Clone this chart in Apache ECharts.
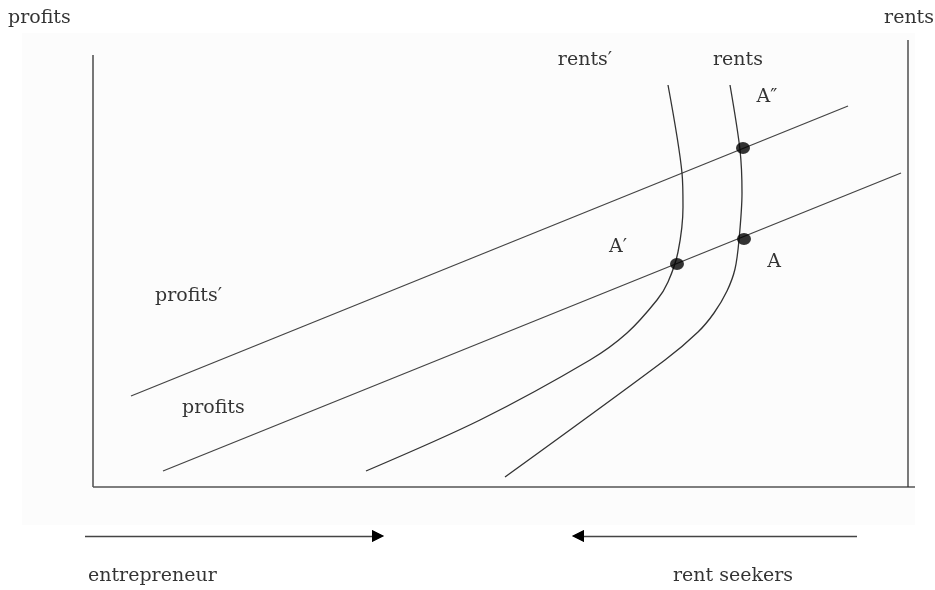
<!DOCTYPE html>
<html>
<head>
<meta charset="utf-8">
<script src="https://cdn.jsdelivr.net/npm/echarts@6/dist/echarts.min.js"></script>
<style>html,body{margin:0;padding:0;background:#fff}#c{width:935px;height:590px}</style>
</head>
<body>
<div id="c"></div>
<script>
// Data coordinates: origin at the corner of the two axes
var leftAxis = [[0, 0], [0, 432]];
var bottomAxis = [[0, 0], [822, 0]];
var rightAxis = [[815, 0], [815, 447]];
var profitsPrime = [[38, 91], [755, 381]];
var profits = [[70, 16], [808, 314]];
var rentsPrime = [[575,402],[589,314],[590,280],[585,235],[575,205],[564,187],[534,154],[497,127],[387,67],[273,16]];
var rents = [[637,402],[647,337],[649,294],[646,247],[642,218],[634,196],[621,174],[605,155],[572,127],[412,10]];
var equilibria = [["A″", 650, 339], ["A", 651, 248], ["A′", 584, 223]];
var arrowsData = [[[-8, -49], [285, -49]], [[764, -49], [485, -49]]];
var labelsCenter = [["rents′", 492, 427], ["rents", 645, 427], ["A″", 674, 390], ["A′", 525, 240], ["A", 681, 225]];
var labelsLeft = [["profits", -85, 469], ["profits′", 62, 191], ["profits", 89, 79], ["entrepreneur", -5, -89], ["rent seekers", 580, -89]];
var labelsRight = [["rents", 841, 469]];

var font = { fontFamily: 'DejaVu Serif', fontSize: 19, color: '#000' };
function lineSeries(d, color, w, smooth) {
  return { type: 'line', data: d, symbol: 'none', smooth: smooth || false, silent: true,
    lineStyle: { color: color, width: w }, z: 3 };
}
function labelSeries(arr, pos) {
  return { type: 'scatter', symbolSize: 0, silent: true, z: 5,
    data: arr.map(function (a) { return { name: a[0], value: [a[1], a[2]] }; }),
    label: Object.assign({ show: true, position: pos, distance: 0, formatter: '{b}' }, font) };
}
var chart = echarts.init(document.getElementById('c'), null, { renderer: 'canvas' });
chart.setOption({
  animation: false,
  backgroundColor: '#fff',
  grid: { left: 0, right: 0, top: 0, bottom: 0 },
  xAxis: { type: 'value', min: -93, max: 842, show: false },
  yAxis: { type: 'value', min: -103, max: 487, show: false },
  series: [
    Object.assign(lineSeries(leftAxis, '#555', 1.6), {
      markArea: { silent: true, itemStyle: { color: '#fcfcfc' },
        data: [[{ coord: [-71, -38] }, { coord: [822, 454] }]] }
    }),
    lineSeries(bottomAxis, '#555', 1.6),
    lineSeries(rightAxis, '#333', 1.3),
    lineSeries(profitsPrime, '#444', 1.3),
    lineSeries(profits, '#444', 1.3),
    lineSeries(rentsPrime, '#333', 1.3, 0.3),
    lineSeries(rents, '#333', 1.3, 0.3),
    { type: 'lines', coordinateSystem: 'cartesian2d', silent: true, z: 4,
      symbol: ['none', 'triangle'], symbolSize: [10, 12],
      lineStyle: { color: '#444', width: 1.3, opacity: 1 },
      data: arrowsData.map(function (c) { return { coords: c }; }) },
    { type: 'lines', coordinateSystem: 'cartesian2d', silent: true, z: 4,
      symbol: ['none', 'triangle'], symbolSize: [10, 12],
      lineStyle: { color: '#000', width: 0, opacity: 1 },
      data: arrowsData.map(function (c) { return { coords: c }; }) },
    { type: 'scatter', silent: true, z: 6, symbol: 'circle', symbolSize: [14, 12],
      itemStyle: { color: '#000' },
      data: equilibria.map(function (e) { return { name: e[0], value: [e[1], e[2]] }; }) },
    labelSeries(labelsCenter, 'inside'),
    labelSeries(labelsLeft, 'right'),
    labelSeries(labelsRight, 'left')
  ]
});
</script>
</body>
</html>
